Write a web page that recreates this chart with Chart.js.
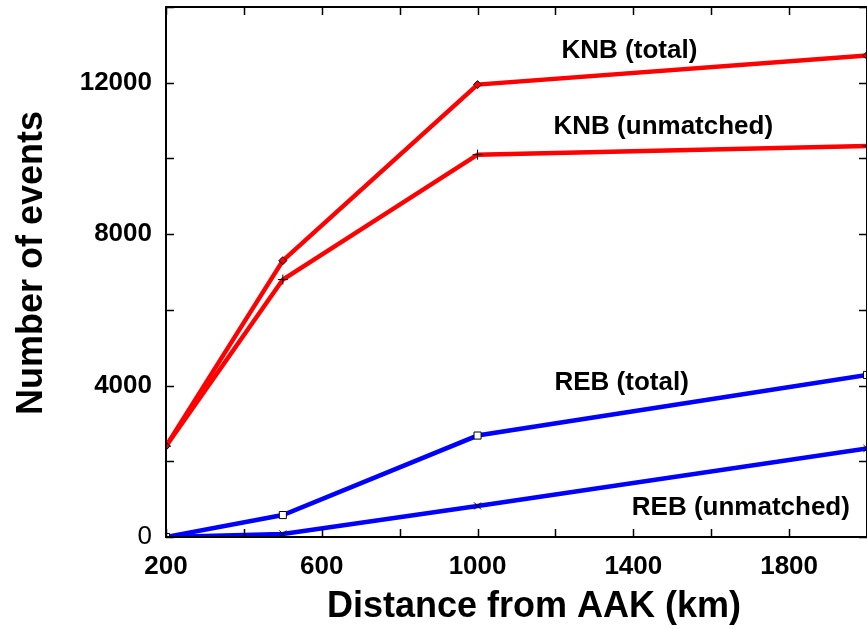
<!DOCTYPE html>
<html>
<head>
<meta charset="utf-8">
<script src="https://cdn.jsdelivr.net/npm/chart.js@4/dist/chart.umd.min.js"></script>
<style>
  html, body { margin: 0; padding: 0; background: #fff; overflow: hidden; }
  #wrap { width: 867px; height: 629px; }
</style>
</head>
<body>
<div id="wrap"><canvas id="myChart" width="867" height="629"></canvas></div>
<script>
// distance from AAK (km)
var distances = [200, 500, 1000, 2000];
// number of events
var knbTotal = [2400, 7300, 11950, 12720];
var knbUnmatched = [2400, 6800, 10100, 10330];
var rebTotal = [0, 580, 2680, 4280];
var rebUnmatched = [0, 80, 820, 2340];

var xLabelTicks = [200, 600, 1000, 1400, 1800];
var yLabelTicks = [0, 4000, 8000, 12000];

// text placed inside the plot, in data units
var seriesNotes = [
    { text: 'KNB (total)', x: 1390, y: 12850 },
    { text: 'KNB (unmatched)', x: 1477, y: 10830 },
    { text: 'REB (total)', x: 1370, y: 4080 },
    { text: 'REB (unmatched)', x: 1676, y: 770 }
];

var FONT = "'Liberation Sans', Arial, Helvetica, sans-serif";

function pts(ys) {
    return ys.map(function (y, i) { return { x: distances[i], y: y }; });
}

var frame = {
    id: 'frame',
    afterDraw: function (chart) {
        var c = chart.ctx, a = chart.chartArea;
        var xs = chart.scales.x, ys = chart.scales.y;
        var t = 8;
        c.save();
        c.strokeStyle = '#000';
        c.lineWidth = 2;
        c.strokeRect(a.left, a.top, a.right - a.left, a.bottom - a.top);
        c.lineWidth = 1.5;
        c.beginPath();
        xs.ticks.forEach(function (tk) {
            var px = Math.round(xs.getPixelForValue(tk.value)) + 0.5;
            c.moveTo(px, a.bottom); c.lineTo(px, a.bottom - t);
            c.moveTo(px, a.top); c.lineTo(px, a.top + t);
        });
        ys.ticks.forEach(function (tk) {
            var py = Math.round(ys.getPixelForValue(tk.value)) + 0.5;
            c.moveTo(a.left, py); c.lineTo(a.left + t, py);
            c.moveTo(a.right, py); c.lineTo(a.right - t, py);
        });
        c.stroke();

        // notes next to the curves
        c.fillStyle = '#000';
        c.font = 'bold 26px ' + FONT;
        c.textAlign = 'center';
        c.textBaseline = 'middle';
        seriesNotes.forEach(function (n) {
            c.fillText(n.text, xs.getPixelForValue(n.x), ys.getPixelForValue(n.y));
        });

        // axis titles
        c.font = 'bold 36px ' + FONT;
        c.fillText('Distance from AAK (km)', 534, 607);
        c.translate(32, 263);
        c.rotate(-Math.PI / 2);
        c.fillText('Number of events', 0, 0);
        c.restore();
    }
};

var ctx = document.getElementById('myChart').getContext('2d');
var chart = new Chart(ctx, {
    type: 'line',
    data: {
        datasets: [{
            label: 'KNB (total)',
            data: pts(knbTotal),
            borderColor: '#ff0000',
            pointStyle: 'rectRot',
            pointBackgroundColor: '#ff0000',
            pointBorderColor: '#000',
            pointRadius: 4
        }, {
            label: 'KNB (unmatched)',
            data: pts(knbUnmatched),
            borderColor: '#ff0000',
            pointStyle: 'cross',
            pointBorderColor: '#000',
            pointRadius: 5
        }, {
            label: 'REB (total)',
            data: pts(rebTotal),
            borderColor: '#0000ff',
            pointStyle: 'rect',
            pointBackgroundColor: '#fff',
            pointBorderColor: '#000',
            pointRadius: 5
        }, {
            label: 'REB (unmatched)',
            data: pts(rebUnmatched),
            borderColor: '#0000ff',
            pointStyle: 'crossRot',
            pointBorderColor: '#000',
            pointRadius: 5
        }]
    },
    options: {
        responsive: false,
        animation: false,
        layout: { autoPadding: false, padding: { top: 7, right: 0, left: 0, bottom: 0 } },
        elements: {
            line: { borderWidth: 4.5, tension: 0 },
            point: { borderWidth: 1 }
        },
        plugins: {
            legend: { display: false },
            tooltip: { enabled: false }
        },
        scales: {
            x: {
                type: 'linear',
                min: 200,
                max: 2000,
                grid: { display: false, drawTicks: false },
                border: { display: false },
                ticks: {
                    stepSize: 200,
                    padding: 14,
                    color: '#000',
                    font: { family: FONT, size: 26, weight: 'bold' },
                    maxRotation: 0,
                    autoSkip: false,
                    callback: function (v) { return xLabelTicks.indexOf(v) >= 0 ? String(v) : ''; }
                },
                afterFit: function (s) {
                    s.height = 92;
                    s.paddingLeft = 0;
                    s.paddingRight = 0;
                }
            },
            y: {
                min: 0,
                max: 14000,
                grid: { display: false, drawTicks: false },
                border: { display: false },
                ticks: {
                    stepSize: 2000,
                    padding: 14,
                    color: '#000',
                    font: function (c) {
                        var zero = c.tick && c.tick.value === 0;
                        return { family: FONT, size: 26, weight: zero ? 'normal' : 'bold' };
                    },
                    callback: function (v) { return yLabelTicks.indexOf(v) >= 0 ? String(v) : ''; }
                },
                afterFit: function (s) {
                    s.width = 166;
                    s.paddingTop = 0;
                    s.paddingBottom = 0;
                }
            }
        }
    },
    plugins: [frame]
});
</script>
</body>
</html>
